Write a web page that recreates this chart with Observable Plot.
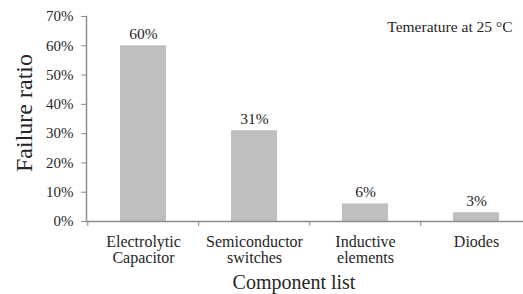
<!DOCTYPE html>
<html>
<head>
<meta charset="utf-8">
<script src="https://cdn.jsdelivr.net/npm/d3@7"></script>
<script src="https://cdn.jsdelivr.net/npm/@observablehq/plot@0.6"></script>
<style>
  html, body { margin: 0; padding: 0; background: #fff; overflow: hidden; }
  #chart svg, #chart svg text { font-family: "Liberation Serif", "Times New Roman", serif !important; }
</style>
</head>
<body>
<div id="chart"></div>
<script>
const categories = ["Electrolytic\nCapacitor", "Semiconductor\nswitches", "Inductive\nelements", "Diodes"];
const values = [0.60, 0.31, 0.06, 0.03];
const valueLabels = ["60%", "31%", "6%", "3%"];
const yTicks = [0, 0.1, 0.2, 0.3, 0.4, 0.5, 0.6, 0.7];
const annotation = "Temerature at 25 °C";
const xTitle = "Component list";
const yTitle = "Failure ratio";

const data = categories.map((c, i) => ({cat: c, v: values[i], label: valueLabels[i]}));

const W = 523, H = 294;
const mL = 86, mR = -9, mT = 16, mB = 73;
const step = (W - mL - mR) / categories.length;

const axisGray = "#8c8c8c";
const textCol = "#262626";

const chart = Plot.plot({
  width: W,
  height: H,
  marginLeft: mL,
  marginRight: mR,
  marginTop: mT,
  marginBottom: mB,
  style: {fontSize: "15px", color: textCol, background: "#fff", overflow: "visible"},
  x: {domain: categories, paddingInner: 0.59, paddingOuter: 0.295, label: null},
  y: {domain: [0, 0.7], label: null},
  marks: [
    Plot.barY(data, {x: "cat", y: "v", fill: "#bfbfbf"}),
    Plot.ruleY([0], {stroke: axisGray, strokeWidth: 1.5}),
    Plot.frame({anchor: "left", stroke: axisGray, strokeWidth: 1.5}),
    Plot.axisY({ticks: yTicks, tickFormat: d3.format(".0%"), tickSize: 5, tickPadding: 8, stroke: axisGray, fill: textCol, fontSize: 15, label: null}),
    Plot.axisX({tickSize: 5, tickFormat: () => "", dx: -step / 2, stroke: axisGray, label: null}),
    Plot.axisX({tickSize: 0, tickPadding: 14, fontSize: 16, lineHeight: 1.0, fill: textCol, label: null}),
    Plot.text(data, {x: "cat", y: "v", text: "label", dy: -12, fontSize: 15.5, fill: textCol}),
    Plot.text([annotation], {frameAnchor: "top-right", dx: -20, dy: 11, lineAnchor: "middle", textAnchor: "end", fontSize: 15.5, fill: textCol}),
    Plot.text([yTitle], {frameAnchor: "left", rotate: -90, dx: -62, dy: -6, lineAnchor: "middle", textAnchor: "middle", fontSize: 24, fill: textCol}),
    Plot.text([xTitle], {frameAnchor: "bottom", dx: -15.5, dy: 61, lineAnchor: "middle", fontSize: 20, fill: textCol})
  ]
});
document.getElementById("chart").append(chart);
</script>
</body>
</html>
